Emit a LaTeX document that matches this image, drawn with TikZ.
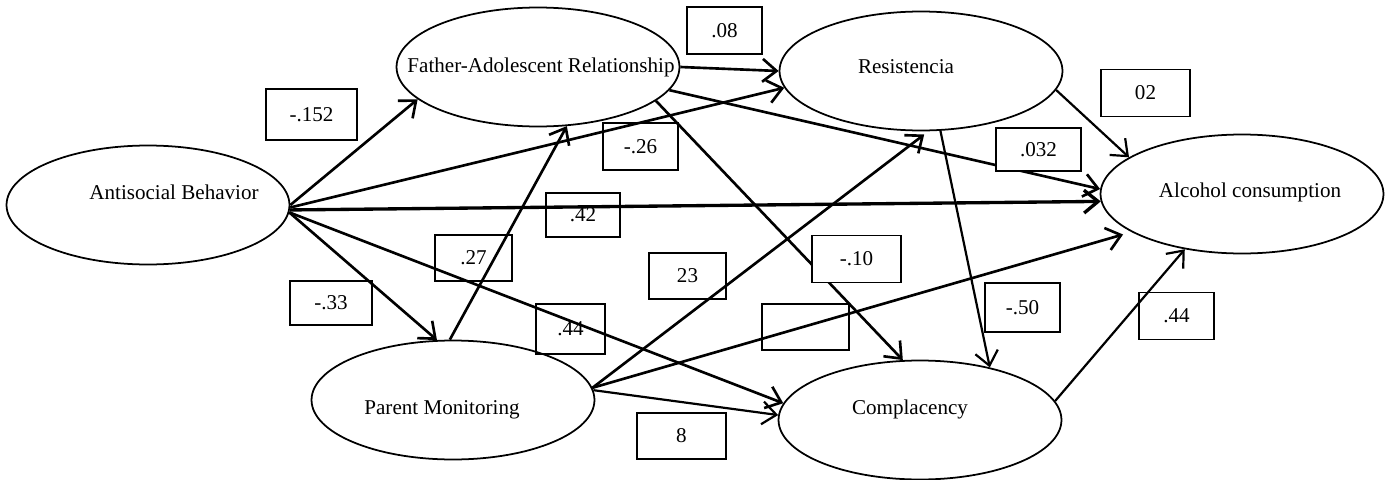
\documentclass[tikz,border=0pt]{standalone}
\usepackage{fontspec}
\setmainfont{Liberation Serif}
\usetikzlibrary{arrows.meta,shapes.geometric}

\begin{document}
\begin{tikzpicture}[
  x=0.02cm, y=-0.02cm,
  latent/.style={draw, ellipse, minimum width=5.66cm, minimum height=2.38cm,
                 inner sep=0pt, line width=1pt},
  varlabel/.style={font=\fontsize{12pt}{14pt}\selectfont, inner sep=0pt},
  coef/.style={draw, line width=0.75pt, minimum height=0.94cm, inner sep=1pt,
               font=\fontsize{12pt}{14pt}\selectfont},
  effect/.style={-{Straight Barb[length=8pt,width=13pt]}, line width=1.5pt},
]
  \useasboundingbox (0,0) rectangle (1386,480);

  % latent variables
  \node[latent, label={[varlabel, xshift=0.52cm, yshift=0.26cm]center:Antisocial Behavior}] (ab) at (148,205) {};
  \node[latent, label={[varlabel, xshift=0.06cm]center:Father-Adolescent Relationship}] (far) at (538,67) {};
  \node[latent, label={[varlabel, xshift=-0.3cm, yshift=0.08cm]center:Resistencia}] (res) at (921,71) {};
  \node[latent, label={[varlabel, xshift=0.16cm, yshift=0.04cm]center:Alcohol consumption}] (alc) at (1242,194) {};
  \node[latent, label={[varlabel, xshift=-0.22cm, yshift=-0.2cm]center:Parent Monitoring}] (pm) at (453,400) {};
  \node[latent, label={[varlabel, xshift=-0.2cm, yshift=0.22cm]center:Complacency}] (comp) at (920,420) {};

  % paths from antisocial behavior
  \draw[effect] (ab.east) -- (far.195);
  \draw[effect] (ab.-1) -- (res.187);
  \draw[effect, line width=1.9pt] (ab.-2) -- (alc.183.6);
  \draw[effect] (ab.-3) -- (pm.105);
  \draw[effect] (ab.-3) -- (comp.173);

  % paths from father-adolescent relationship
  \draw[effect] (far.east) -- (res.west);
  \draw[effect] (far.-10) -- (alc.178);
  \draw[effect] (far.-16) -- (comp.106);

  % paths from parent monitoring
  \draw[effect] (pm.93) -- (far.296);
  \draw[effect, shorten >=3pt] (pm.5) -- (res.277);
  \draw[effect, shorten >=5pt] (pm.5) -- (alc.199);
  \draw[effect, line width=1.25pt] (pm.4) -- (comp.178);

  % paths to alcohol consumption and complacency
  \draw[effect, line width=1.25pt] (res.-8) -- (alc.162);
  \draw[effect, line width=1.25pt] (res.288) -- (comp.37);
  \draw[effect, line width=1.25pt] (comp.8) -- (alc.224);

  % coefficients
  \node[coef, minimum width=1.82cm, minimum height=1.02cm] (c152) at (311.5,114.5) {-.152};
  \node[coef, minimum width=1.5cm]  (c08)  at (724.5,30.5) {.08};
  \node[coef, minimum width=1.5cm]  (c26)  at (640.5,146.5) {-.26};
  \node[coef, minimum width=1.48cm, minimum height=0.88cm] (c42) at (583,215) {.42};
  \node[coef, minimum width=1.78cm] (c02)  at (1145.5,93) {02};
  \node[coef, minimum width=1.7cm, minimum height=0.86cm, fill=white] (c032) at (1038.5,149.5) {.032};
  \node[coef, minimum width=1.64cm, minimum height=0.88cm] (c33) at (331,303) {-.33};
  \node[coef, minimum width=1.54cm, minimum height=0.92cm] (c27) at (473.5,258) {.27};
  \node[coef, minimum width=1.38cm, minimum height=1cm] (c44a) at (570.5,329) {.44};
  \node[coef, minimum width=1.54cm, minimum height=0.92cm] (c23) at (687.5,276) {23};
  \node[coef, minimum width=1.78cm, fill=white] (c10) at (856.5,259) {-.10};
  \node[coef, minimum width=1.74cm, minimum height=0.92cm] (cx) at (805.5,327) {};
  \node[coef, minimum width=1.78cm, minimum height=0.92cm] (c8) at (681.5,436) {8};
  \node[coef, minimum width=1.5cm, minimum height=0.98cm] (c50) at (1022.5,307.5) {-.50};
  \node[coef, minimum width=1.5cm]  (c44b) at (1176.5,316) {.44};
\end{tikzpicture}
\end{document}
